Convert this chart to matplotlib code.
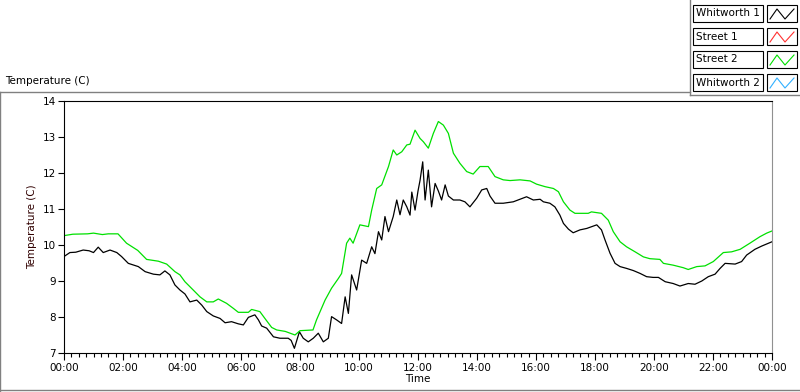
import matplotlib
matplotlib.use("Agg")
import matplotlib.pyplot as plt
from matplotlib.lines import Line2D
from matplotlib.patches import Rectangle
from matplotlib.ticker import MultipleLocator, FuncFormatter

# Whitworth 1 (black) - hours since midnight, temperature
w1_hours = [0.0, 0.2, 0.4, 0.65, 0.85, 1.0, 1.16, 1.33, 1.56, 1.79, 1.95, 2.18, 2.52, 2.75,
            3.03, 3.25, 3.42, 3.59, 3.76, 3.93, 4.1, 4.27, 4.5, 4.67, 4.84, 5.06, 5.29, 5.46,
            5.68, 5.91, 6.08, 6.25, 6.47, 6.59, 6.7, 6.87, 7.1, 7.32, 7.6, 7.7, 7.81, 7.98,
            8.11, 8.28, 8.45, 8.62, 8.79, 8.96, 9.07, 9.24, 9.41, 9.53, 9.64, 9.75, 9.92,
            10.09, 10.26, 10.43, 10.54, 10.66, 10.77, 10.88, 11.0, 11.16, 11.28, 11.39, 11.5,
            11.62, 11.73, 11.79, 11.9, 12.0, 12.07, 12.16, 12.24, 12.35, 12.46, 12.58, 12.69,
            12.8, 12.92, 13.03, 13.2, 13.42, 13.59, 13.76, 13.99, 14.16, 14.33, 14.44, 14.61,
            14.89, 15.23, 15.68, 15.91, 16.14, 16.25, 16.47, 16.64, 16.81, 16.93, 17.1, 17.26,
            17.49, 17.72, 17.89, 18.06, 18.22, 18.34, 18.51, 18.68, 18.85, 19.07, 19.3, 19.53,
            19.75, 19.97, 20.15, 20.38, 20.65, 20.88, 21.16, 21.39, 21.62, 21.84, 22.07, 22.24,
            22.41, 22.75, 22.97, 23.14, 23.42, 23.65, 24.0]
w1_temp = [9.68, 9.79, 9.8, 9.86, 9.84, 9.79, 9.94, 9.79, 9.86, 9.79, 9.68, 9.49, 9.4, 9.26,
           9.19, 9.17, 9.28, 9.17, 8.89, 8.75, 8.64, 8.42, 8.47, 8.33, 8.15, 8.03, 7.96, 7.84,
           7.87, 7.81, 7.78, 7.99, 8.06, 7.92, 7.75, 7.69, 7.45, 7.41, 7.41, 7.35, 7.13, 7.59,
           7.41, 7.31, 7.41, 7.55, 7.31, 7.41, 8.01, 7.92, 7.82, 8.56, 8.1, 9.17, 8.75,
           9.58, 9.49, 9.95, 9.76, 10.37, 10.14, 10.79, 10.37, 10.79, 11.25, 10.84, 11.25,
           11.06, 10.83, 11.47, 10.97, 11.5, 11.8, 12.31, 11.25, 12.08, 11.06, 11.71, 11.5,
           11.25, 11.67, 11.36, 11.25, 11.25, 11.2, 11.06, 11.3, 11.53, 11.57, 11.36, 11.16,
           11.16, 11.2, 11.34, 11.25, 11.27, 11.2, 11.16, 11.06, 10.83, 10.6, 10.44, 10.34,
           10.42, 10.46, 10.51, 10.56, 10.42, 10.14, 9.77, 9.49, 9.4, 9.35, 9.29, 9.21,
           9.12, 9.1, 9.1, 8.98, 8.93, 8.86, 8.93, 8.91, 9.0, 9.12, 9.19, 9.35,
           9.49, 9.47, 9.54, 9.72, 9.88, 9.97, 10.09]

# Street 2 (green)
s2_hours = [0.0, 0.3, 0.8, 1.0, 1.3, 1.5, 1.83, 2.12, 2.5, 2.8, 3.2, 3.48, 3.76, 3.93, 4.1,
            4.38, 4.61, 4.84, 5.06, 5.23, 5.51, 5.74, 5.91, 6.25, 6.36, 6.64, 6.81, 7.04,
            7.21, 7.5, 7.83, 8.0, 8.44, 8.56, 8.85, 9.07, 9.3, 9.41, 9.58, 9.69, 9.8, 10.03,
            10.32, 10.43, 10.6, 10.77, 11.0, 11.16, 11.28, 11.45, 11.62, 11.73, 11.9, 12.07,
            12.18, 12.35, 12.52, 12.69, 12.86, 13.03, 13.2, 13.42, 13.65, 13.87, 14.1, 14.38,
            14.61, 14.89, 15.12, 15.46, 15.8, 16.02, 16.31, 16.59, 16.76, 16.93, 17.15, 17.32,
            17.77, 17.88, 18.22, 18.45, 18.62, 18.85, 19.07, 19.36, 19.64, 19.86, 20.2, 20.32,
            20.65, 20.99, 21.16, 21.45, 21.73, 22.01, 22.35, 22.63, 22.92, 23.25, 23.59,
            23.82, 24.0]
s2_temp = [10.26, 10.3, 10.31, 10.33, 10.29, 10.31, 10.31, 10.05, 9.85, 9.6, 9.55, 9.47, 9.26,
           9.17, 8.98, 8.75, 8.56, 8.42, 8.42, 8.5, 8.38, 8.24, 8.13, 8.13, 8.21, 8.15, 7.96,
           7.71, 7.64, 7.6, 7.5, 7.62, 7.64, 7.92, 8.47, 8.8, 9.07, 9.21, 10.05, 10.19, 10.05,
           10.56, 10.51, 10.97, 11.57, 11.67, 12.18, 12.64, 12.5, 12.59, 12.78, 12.8, 13.19,
           12.96, 12.87, 12.69, 13.1, 13.43, 13.33, 13.1, 12.55, 12.27, 12.04, 11.97, 12.18,
           12.18, 11.9, 11.81, 11.79, 11.81, 11.78, 11.69, 11.62, 11.57, 11.48, 11.2, 10.97,
           10.88, 10.88, 10.92, 10.88, 10.69, 10.37, 10.09, 9.95, 9.81, 9.67, 9.62, 9.6, 9.49,
           9.44, 9.37, 9.32, 9.4, 9.42, 9.54, 9.79, 9.81, 9.88, 10.05, 10.23, 10.33, 10.39]

legend_names = ["Whitworth 1", "Street 1", "Street 2", "Whitworth 2"]
legend_colors = ["#000000", "#ff3030", "#00e000", "#30b0ff"]

W, H = 800, 392
fig = plt.figure(figsize=(W / 100, H / 100), dpi=100)
fig.patch.set_facecolor("white")


def fx(x):
    return x / W


def fy(y):
    return 1 - y / H


ax = fig.add_axes([fx(64), fy(353), fx(772) - fx(64), fy(101) - fy(353)])
ax.plot(w1_hours, w1_temp, color="black", lw=0.9)
ax.plot(s2_hours, s2_temp, color="#00e000", lw=0.9)

ax.set_xlim(0, 24)
ax.set_ylim(7, 14)
ax.xaxis.set_major_locator(MultipleLocator(2))
ax.xaxis.set_minor_locator(MultipleLocator(0.25))
ax.xaxis.set_major_formatter(FuncFormatter(lambda v, p: "%02d:00" % (int(round(v)) % 24)))
ax.yaxis.set_major_locator(MultipleLocator(1))
ax.tick_params(axis="both", labelsize=7.5, color="black", width=0.8)
ax.tick_params(axis="x", which="major", length=5, pad=2)
ax.tick_params(axis="x", which="minor", length=3, width=0.8)
ax.tick_params(axis="y", length=4, pad=2)
ax.set_xlabel("Time", fontsize=7.5, labelpad=1)
ax.set_ylabel("Temperature (C)", fontsize=7.5, color="#300000", labelpad=4)
ax.spines["right"].set_color("#909090")
for s in ["top", "left", "bottom"]:
    ax.spines[s].set_color("black")

fig.text(fx(5), fy(81), "Temperature (C)", fontsize=7.5, va="center", ha="left")

# outer frame of the graph
frame = [((0, 92), (690, 92)), ((0, 92), (0, 392)), ((0, 390), (800, 390)),
         ((690, 0), (690, 95)), ((690, 95), (800, 95))]
for (x0, y0), (x1, y1) in frame:
    fig.add_artist(Line2D([fx(x0), fx(x1)], [fy(y0), fy(y1)], color="#808080", lw=1))

# plot legend in the top right corner
tops = [5, 28, 51, 74]
for name, col, top in zip(legend_names, legend_colors, tops):
    fig.add_artist(Rectangle((fx(693), fy(top + 17)), fx(763) - fx(693), fy(top) - fy(top + 17),
                             facecolor="white", edgecolor="black", lw=0.8))
    fig.text(fx(696), fy(top + 8.5), name, fontsize=7.5, va="center", ha="left")
    fig.add_artist(Rectangle((fx(767), fy(top + 17)), fx(797) - fx(767), fy(top) - fy(top + 17),
                             facecolor="white", edgecolor="black", lw=0.8))
    zx = [770, 777, 785, 794]
    zy = [top + 14, top + 4, top + 14, top + 4]
    fig.add_artist(Line2D([fx(v) for v in zx], [fy(v) for v in zy], color=col, lw=0.8))

fig.savefig("out.png", dpi=100, facecolor="white")
